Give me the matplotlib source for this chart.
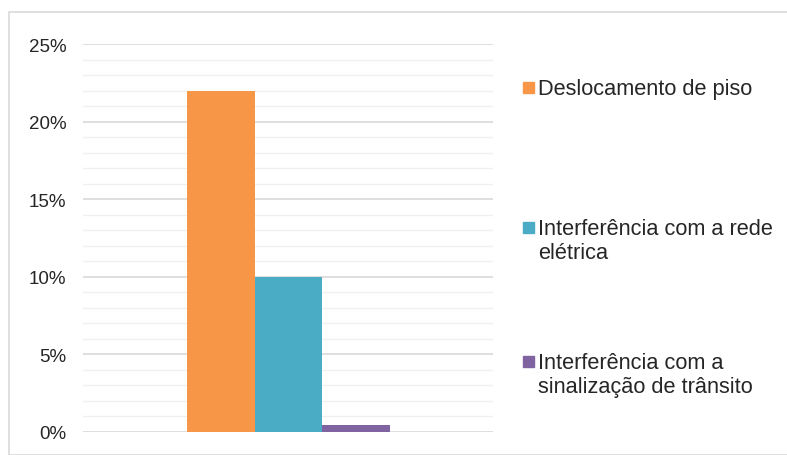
import matplotlib
matplotlib.use('Agg')
import matplotlib.pyplot as plt
from matplotlib.patches import Rectangle
from matplotlib.ticker import MultipleLocator, FuncFormatter

plt.rcParams['font.family'] = ['Liberation Sans', 'DejaVu Sans']

# data
categories = ['Deslocamento de piso',
              'Interferência com a rede\nelétrica',
              'Interferência com a\nsinalização de trânsito']
values = [22.0, 10.0, 0.45]
colors = ['#F79646', '#4BACC6', '#8064A2']
legend_y = [88, 228, 362]   # pixel y of the first line of each legend entry

W, H = 787, 456
fig = plt.figure(figsize=(W/100, H/100), dpi=100)

# light frame round the chart
fig.add_artist(Rectangle((9/W, 0), 1.0, 1 - 13/H, transform=fig.transFigure,
                         fill=False, edgecolor='#d9d9d9', linewidth=1.2))

ax = fig.add_axes([83/W, 1 - 433/H, (493-83)/W, (433-45)/H])
width = 67.5/410
xs = [-width, 0, width]
for x, v, c in zip(xs, values, colors):
    ax.bar(x, v, width=width, color=c, zorder=3)

x0 = -1.5*width - 104/410
ax.set_xlim(x0, x0 + 1)
ax.set_ylim(0, 25)
ax.yaxis.set_major_locator(MultipleLocator(5))
ax.yaxis.set_minor_locator(MultipleLocator(1))
ax.yaxis.set_major_formatter(FuncFormatter(lambda v, p: f'{v:.0f}%'))
ax.grid(axis='y', which='major', color='#d9d9d9', linewidth=1.2, zorder=0)
ax.grid(axis='y', which='minor', color='#f0f0f0', linewidth=1.0, zorder=0)
ax.tick_params(axis='y', which='both', length=0, pad=12, labelsize=13.5, labelcolor='#262626')
ax.tick_params(axis='x', which='both', length=0, labelbottom=False)
for s in ax.spines.values():
    s.set_visible(False)

# legend drawn by hand, Excel-style spacing
for lab, c, y in zip(categories, colors, legend_y):
    fig.add_artist(Rectangle((523/W, 1 - (y + 5.5)/H), 11/W, 11/H,
                             transform=fig.transFigure, color=c))
    fig.text(538/W, 1 - (y - 9)/H, lab, ha='left', va='top', fontsize=15.7,
             color='#262626', linespacing=1.2)

fig.savefig('out.png', dpi=100)
